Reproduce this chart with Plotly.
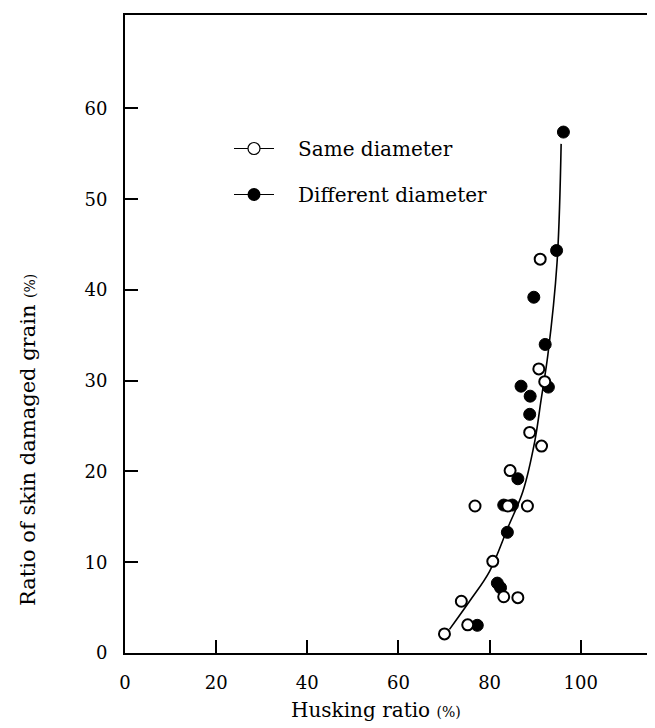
import plotly.graph_objects as go

# Same diameter (open circles)
same_x = [70.1, 73.8, 75.2, 80.7, 83.1, 86.2, 76.8, 84.0, 88.3, 84.5, 91.4, 88.8, 92.1, 90.8, 91.1]
same_y = [2.1, 5.7, 3.1, 10.1, 6.2, 6.1, 16.2, 16.2, 16.2, 20.1, 22.8, 24.3, 29.9, 31.3, 43.4]

# Different diameter (filled circles)
diff_x = [77.3, 81.7, 82.4, 83.9, 83.1, 85.0, 86.2, 88.8, 88.9, 86.9, 92.9, 92.2, 89.7, 94.7, 96.2]
diff_y = [3.05, 7.7, 7.2, 13.3, 16.3, 16.3, 19.2, 26.3, 28.3, 29.4, 29.3, 34.0, 39.2, 44.35, 57.4]

# Fitted curve
curve_x = [71.2, 75.6, 80.0, 84.0, 87.3, 89.9, 91.3, 92.8, 94.8, 95.7]
curve_y = [2.6, 5.7, 9.0, 13.8, 17.8, 23.3, 27.9, 32.9, 43.0, 56.1]

x_ticks = [0, 20, 40, 60, 80, 100]
y_ticks = [0, 10, 20, 30, 40, 50, 60]

legend_names = ["Same diameter", "Different diameter"]

FONT = "DejaVu Serif"
PAD = "\u00a0\u00a0\u00a0"

fig = go.Figure()
fig.add_trace(go.Scatter(x=curve_x, y=curve_y, mode="lines", line=dict(color="black", width=1.6, shape="spline"),
                         showlegend=False, hoverinfo="skip"))
fig.add_trace(go.Scatter(x=diff_x, y=diff_y, mode="markers",
                         marker=dict(symbol="circle", size=12, color="black", line=dict(color="black", width=1)),
                         showlegend=False))
fig.add_trace(go.Scatter(x=same_x, y=same_y, mode="markers",
                         marker=dict(symbol="circle", size=11, color="white", line=dict(color="black", width=2)),
                         showlegend=False))
# legend entries
fig.add_trace(go.Scatter(x=[None], y=[None], mode="lines+markers", name=PAD + legend_names[0],
                         line=dict(color="black", width=1.2),
                         marker=dict(symbol="circle", size=12, color="white", line=dict(color="black", width=1.2)),
                         legendgroup="a"))
fig.add_trace(go.Scatter(x=[None], y=[None], mode="lines+markers", name=PAD + legend_names[1],
                         line=dict(color="black", width=1.2),
                         marker=dict(symbol="circle", size=13, color="black"),
                         legendgroup="b"))

fig.update_layout(
    width=655, height=728,
    margin=dict(l=117, r=0, t=7, b=83),
    paper_bgcolor="white", plot_bgcolor="white",
    font=dict(family=FONT, size=17, color="black"),
    showlegend=True,
    legend=dict(x=(221 - 117) / 538, y=(645 - 121) / 638, xanchor="left", yanchor="top",
                bgcolor="rgba(0,0,0,0)", font=dict(family=FONT, size=20, color="black"),
                traceorder="grouped", tracegroupgap=17, itemwidth=40),
    xaxis=dict(range=[0, 118.05], tickvals=x_ticks, ticktext=[str(v) for v in x_ticks],
               showgrid=False, zeroline=False, showline=True, linecolor="black", linewidth=2,
               mirror=True, ticks="inside", ticklen=13, tickwidth=2, tickcolor="black",
               ticklabelstandoff=12, tickfont=dict(family=FONT, size=18)),
    yaxis=dict(range=[0, 70.3], tickvals=y_ticks, ticktext=[str(v) for v in y_ticks],
               showgrid=False, zeroline=False, showline=True, linecolor="black", linewidth=2,
               mirror=False, ticks="inside", ticklen=13, tickwidth=2, tickcolor="black",
               ticklabelstandoff=12, tickfont=dict(family=FONT, size=18)),
    annotations=[
        dict(text="Husking ratio <span style='font-size:14px'>(%)</span>", xref="paper", yref="paper",
             x=(368 - 117) / 538, y=(645 - 702) / 638, xanchor="center", yanchor="middle",
             showarrow=False, font=dict(family=FONT, size=20)),
        dict(text="Ratio of skin damaged grain <span style='font-size:14px'>(%)</span>", xref="paper", yref="paper",
             x=(20 - 117) / 538, y=(645 - 432) / 638, xanchor="center", yanchor="middle", textangle=-90,
             showarrow=False, font=dict(family=FONT, size=21)),
    ],
)

fig.write_html("out.html")
